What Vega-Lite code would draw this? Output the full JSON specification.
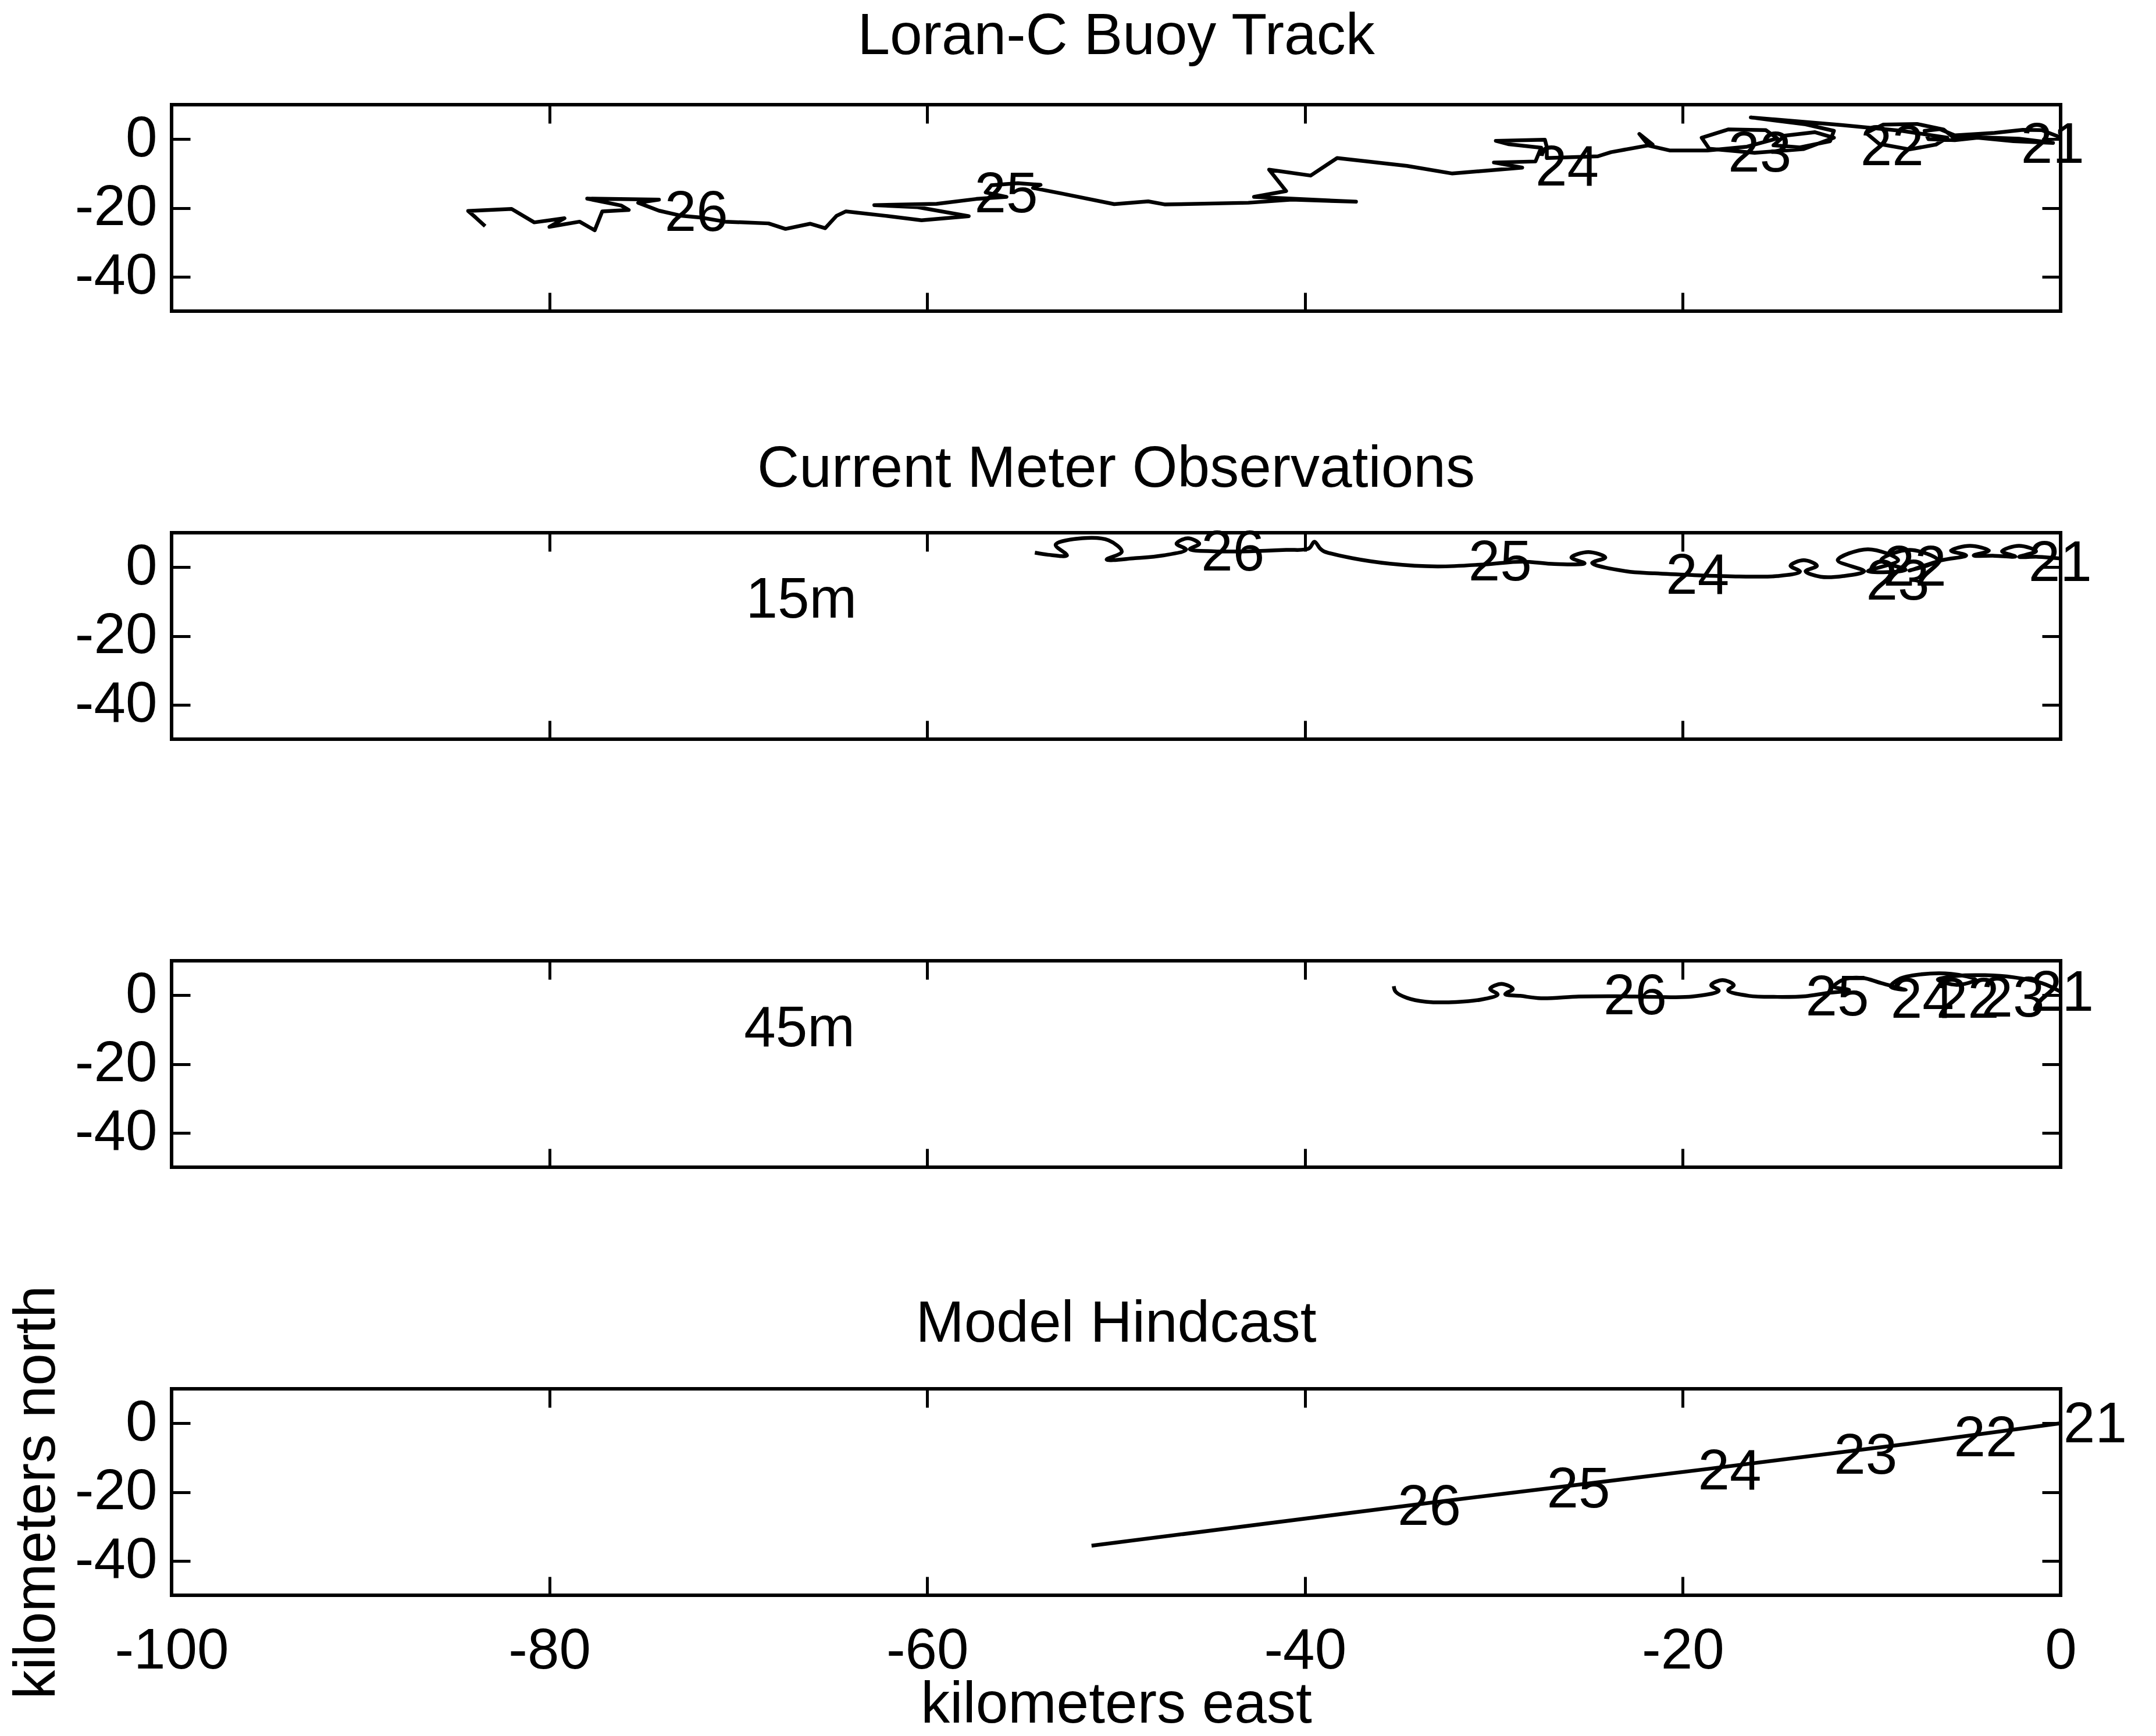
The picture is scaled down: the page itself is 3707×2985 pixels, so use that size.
{
  "$schema": "https://vega.github.io/schema/vega-lite/v6.json",
  "autosize": {"type": "none"},
  "padding": {"left": 295, "top": 180, "right": 3412, "bottom": 2805},
  "background": "white",
  "bounds": "flush",
  "spacing": 381,
  "config": {
    "font": "Liberation Sans",
    "view": {"stroke": "black", "strokeWidth": 6},
    "axis": {
      "domain": false, "grid": false,
      "tickColor": "black", "tickWidth": 5, "tickSize": -32,
      "labelFont": "Liberation Sans", "labelFontSize": 98, "labelColor": "black", "labelLimit": 2000,
      "labelFlush": false, "labelOverlap": false, "labelBound": false,
      "titleFont": "Liberation Sans", "titleFontSize": 100, "titleFontWeight": "normal", "titleColor": "black", "titleLimit": 3000
    },
    "title": {"font": "Liberation Sans", "fontSize": 100, "fontWeight": "normal", "color": "black", "baseline": "alphabetic", "frame": "group", "anchor": "middle"}
  },
  "datasets": {
    "loran": [
      {"i":1,"x":0,"y":0.5},{"i":2,"x":-1.0,"y":2.6},{"i":3,"x":-2.0,"y":2.7},{"i":4,"x":-3.5,"y":1.8},{"i":5,"x":-5.6,"y":1.1},
      {"i":6,"x":-6.4,"y":2.9},{"i":7,"x":-7.2,"y":2.4},{"i":8,"x":-7.0,"y":0.0},{"i":9,"x":-5.6,"y":-0.3},{"i":10,"x":-4.4,"y":0.4},
      {"i":11,"x":-2.5,"y":-0.6},{"i":12,"x":-0.4,"y":-1.1},{"i":13,"x":-2.2,"y":0.1},{"i":14,"x":-4.8,"y":0.6},{"i":15,"x":-5.6,"y":0.1},
      {"i":16,"x":-6.2,"y":2.8},{"i":17,"x":-7.6,"y":4.4},{"i":18,"x":-9.4,"y":4.2},{"i":19,"x":-10.3,"y":1.8},{"i":20,"x":-9.6,"y":-1.4},
      {"i":21,"x":-8.0,"y":-3.0},{"i":22,"x":-6.6,"y":-1.6},{"i":23,"x":-6.0,"y":0.4},{"i":24,"x":-8.4,"y":2.4},{"i":25,"x":-11.6,"y":4.1},
      {"i":26,"x":-16.4,"y":6.3},{"i":27,"x":-13.5,"y":4.3},{"i":28,"x":-12.0,"y":2.4},{"i":29,"x":-12.2,"y":-0.6},{"i":30,"x":-13.8,"y":-2.4},
      {"i":31,"x":-15.2,"y":-1.8},{"i":32,"x":-14.6,"y":1.0},{"i":33,"x":-13.0,"y":2.0},{"i":34,"x":-12.0,"y":0.4},{"i":35,"x":-13.6,"y":-2.9},
      {"i":36,"x":-16.2,"y":-4.0},{"i":37,"x":-18.6,"y":-2.8},{"i":38,"x":-19.0,"y":0.4},{"i":39,"x":-17.6,"y":2.8},{"i":40,"x":-15.6,"y":2.6},
      {"i":41,"x":-15.0,"y":0.2},{"i":42,"x":-16.6,"y":-2.2},{"i":43,"x":-18.7,"y":-3.3},{"i":44,"x":-20.7,"y":-3.3},{"i":45,"x":-21.8,"y":-1.9},
      {"i":46,"x":-22.3,"y":1.5},{"i":47,"x":-21.6,"y":-1.6},{"i":48,"x":-23.8,"y":-3.8},{"i":49,"x":-24.5,"y":-5.0},{"i":50,"x":-27.2,"y":-5.5},
      {"i":51,"x":-27.2,"y":-2.3},{"i":52,"x":-27.3,"y":-0.2},{"i":53,"x":-29.9,"y":-0.5},{"i":54,"x":-29.2,"y":-1.5},{"i":55,"x":-27.5,"y":-2.5},
      {"i":56,"x":-27.8,"y":-6.5},{"i":57,"x":-30.0,"y":-6.8},{"i":58,"x":-28.5,"y":-8.3},{"i":59,"x":-32.2,"y":-10.0},{"i":60,"x":-34.6,"y":-7.8},
      {"i":61,"x":-38.3,"y":-5.5},{"i":62,"x":-39.7,"y":-10.6},{"i":63,"x":-41.9,"y":-8.9},{"i":64,"x":-41.0,"y":-15.1},{"i":65,"x":-42.7,"y":-16.8},
      {"i":66,"x":-37.3,"y":-18.2},{"i":67,"x":-40.7,"y":-17.6},{"i":68,"x":-43.0,"y":-18.5},{"i":69,"x":-47.4,"y":-19.0},{"i":70,"x":-48.3,"y":-18.1},
      {"i":71,"x":-50.1,"y":-18.9},{"i":72,"x":-52.9,"y":-15.8},{"i":73,"x":-54.4,"y":-14.2},{"i":74,"x":-54.0,"y":-13.3},{"i":75,"x":-55.2,"y":-12.8},
      {"i":76,"x":-56.6,"y":-13.4},{"i":77,"x":-56.9,"y":-15.5},{"i":78,"x":-55.8,"y":-16.8},{"i":79,"x":-57.4,"y":-17.4},{"i":80,"x":-59.5,"y":-18.8},
      {"i":81,"x":-62.8,"y":-19.2},{"i":82,"x":-60.5,"y":-19.8},{"i":83,"x":-57.8,"y":-22.4},{"i":84,"x":-60.3,"y":-23.6},{"i":85,"x":-62.2,"y":-22.3},
      {"i":86,"x":-64.3,"y":-21.0},{"i":87,"x":-64.8,"y":-22.3},{"i":88,"x":-65.4,"y":-25.9},{"i":89,"x":-66.2,"y":-24.6},{"i":90,"x":-67.5,"y":-26.1},
      {"i":91,"x":-68.4,"y":-24.5},{"i":92,"x":-70.7,"y":-24.0},{"i":93,"x":-72.0,"y":-22.8},{"i":94,"x":-73.0,"y":-22.3},{"i":95,"x":-74.2,"y":-20.8},
      {"i":96,"x":-75.3,"y":-18.5},{"i":97,"x":-74.2,"y":-17.6},{"i":98,"x":-78.0,"y":-17.3},{"i":99,"x":-76.2,"y":-19.3},{"i":100,"x":-75.8,"y":-20.6},
      {"i":101,"x":-77.2,"y":-21.0},{"i":102,"x":-77.6,"y":-26.5},{"i":103,"x":-78.4,"y":-24.0},{"i":104,"x":-80.0,"y":-25.5},{"i":105,"x":-79.2,"y":-23.0},
      {"i":106,"x":-80.8,"y":-24.2},{"i":107,"x":-82.0,"y":-20.3},{"i":108,"x":-84.3,"y":-20.9},{"i":109,"x":-83.9,"y":-22.8},{"i":110,"x":-83.4,"y":-25.3}
    ],
    "m15": [
      {"i":1,"x":0,"y":2.5},{"i":2,"x":-1.2,"y":3.0},
      {"i":3,"x":-2.2,"y":3.0},{"i":4,"x":-1.3,"y":4.6},{"i":5,"x":-2.2,"y":6.2},{"i":6,"x":-3.1,"y":4.6},{"i":7,"x":-2.4,"y":3.1},
      {"i":8,"x":-3.5,"y":3.3},
      {"i":9,"x":-4.6,"y":3.4},{"i":10,"x":-3.8,"y":4.8},{"i":11,"x":-4.8,"y":6.2},{"i":12,"x":-5.8,"y":4.8},{"i":13,"x":-5.0,"y":3.4},
      {"i":14,"x":-6.3,"y":2.0},
      {"i":15,"x":-8.0,"y":-1.0},{"i":16,"x":-6.5,"y":2.0},{"i":17,"x":-8.0,"y":5.0},{"i":18,"x":-9.5,"y":2.0},{"i":19,"x":-8.2,"y":-0.8},
      {"i":20,"x":-10.2,"y":-1.2},{"i":21,"x":-8.6,"y":2.0},{"i":22,"x":-10.2,"y":5.2},{"i":23,"x":-11.8,"y":2.0},{"i":24,"x":-10.4,"y":-1.2},
      {"i":25,"x":-11.5,"y":-2.6},{"i":26,"x":-12.7,"y":-2.8},
      {"i":27,"x":-13.5,"y":-1.2},{"i":28,"x":-12.9,"y":0.4},{"i":29,"x":-13.6,"y":2.0},{"i":30,"x":-14.3,"y":0.4},{"i":31,"x":-13.8,"y":-1.3},
      {"i":32,"x":-15.0,"y":-2.6},{"i":33,"x":-17.0,"y":-2.7},{"i":34,"x":-19.5,"y":-2.3},{"i":35,"x":-21.5,"y":-1.8},{"i":36,"x":-23.0,"y":-1.2},
      {"i":37,"x":-24.8,"y":1.2},{"i":38,"x":-24.1,"y":2.8},{"i":39,"x":-25.0,"y":4.4},{"i":40,"x":-25.9,"y":2.8},{"i":41,"x":-25.2,"y":1.1},
      {"i":42,"x":-26.8,"y":0.9},{"i":43,"x":-28.5,"y":1.6},{"i":44,"x":-30.5,"y":0.8},{"i":45,"x":-33.0,"y":0.2},{"i":46,"x":-35.5,"y":1.0},
      {"i":47,"x":-37.5,"y":2.6},{"i":48,"x":-39.0,"y":4.6},{"i":49,"x":-39.2,"y":5.4},{"i":50,"x":-39.5,"y":7.4},{"i":51,"x":-39.8,"y":5.4},
      {"i":52,"x":-41.0,"y":5.0},{"i":53,"x":-43.0,"y":4.6},{"i":54,"x":-44.8,"y":4.6},
      {"i":55,"x":-46.1,"y":5.2},{"i":56,"x":-45.6,"y":6.8},{"i":57,"x":-46.2,"y":8.4},{"i":58,"x":-46.8,"y":6.8},{"i":59,"x":-46.3,"y":5.1},
      {"i":60,"x":-47.5,"y":3.4},{"i":61,"x":-49.0,"y":2.6},
      {"i":62,"x":-50.5,"y":2.2},{"i":63,"x":-49.7,"y":4.5},{"i":64,"x":-50.4,"y":7.8},{"i":65,"x":-51.8,"y":8.4},{"i":66,"x":-53.2,"y":6.5},
      {"i":67,"x":-52.6,"y":3.4},{"i":68,"x":-53.6,"y":3.6},{"i":69,"x":-54.3,"y":4.2}
    ],
    "m45": [
      {"i":1,"x":0,"y":1.0},{"i":2,"x":-1.0,"y":3.5},{"i":3,"x":-2.5,"y":5.2},{"i":4,"x":-4.0,"y":5.8},{"i":5,"x":-5.5,"y":5.6},
      {"i":6,"x":-6.5,"y":4.5},{"i":7,"x":-5.5,"y":3.0},{"i":8,"x":-4.5,"y":4.5},{"i":9,"x":-5.8,"y":6.2},{"i":10,"x":-7.5,"y":6.0},
      {"i":11,"x":-8.5,"y":4.8},{"i":12,"x":-9.0,"y":2.5},{"i":13,"x":-8.2,"y":1.5},{"i":14,"x":-9.5,"y":3.5},{"i":15,"x":-10.5,"y":5.0},
      {"i":16,"x":-11.5,"y":4.5},{"i":17,"x":-12.0,"y":2.5},{"i":18,"x":-11.2,"y":1.5},{"i":19,"x":-12.5,"y":0.5},{"i":20,"x":-13.5,"y":-0.3},
      {"i":21,"x":-15.0,"y":-0.5},{"i":22,"x":-16.5,"y":-0.2},
      {"i":23,"x":-17.6,"y":1.4},{"i":24,"x":-17.3,"y":2.9},{"i":25,"x":-17.9,"y":4.4},{"i":26,"x":-18.5,"y":2.9},{"i":27,"x":-18.1,"y":1.3},
      {"i":28,"x":-19.5,"y":-0.4},{"i":29,"x":-21.5,"y":-0.5},{"i":30,"x":-23.5,"y":-0.3},{"i":31,"x":-25.5,"y":-0.4},{"i":32,"x":-27.5,"y":-0.9},
      {"i":33,"x":-28.6,"y":-0.2},
      {"i":34,"x":-29.4,"y":0.3},{"i":35,"x":-29.0,"y":1.8},{"i":36,"x":-29.6,"y":3.3},{"i":37,"x":-30.2,"y":1.8},{"i":38,"x":-29.8,"y":0.2},
      {"i":39,"x":-30.6,"y":-1.2},{"i":40,"x":-32.0,"y":-2.0},{"i":41,"x":-33.6,"y":-1.9},{"i":42,"x":-34.6,"y":-0.8},{"i":43,"x":-35.2,"y":1.0},
      {"i":44,"x":-35.3,"y":2.6}
    ],
    "model": [
      {"i":1,"x":0,"y":0},{"i":2,"x":-8.1,"y":-6.0},{"i":3,"x":-18.7,"y":-13.3},{"i":4,"x":-33.5,"y":-23.2},{"i":5,"x":-51.3,"y":-35.6}
    ],
    "lab1": [
      {"t":"26","x":-73.9,"y":-21.8},{"t":"25","x":-57.5,"y":-16.3},{"t":"24","x":-27.8,"y":-8.6},
      {"t":"23","x":-17.6,"y":-4.5},{"t":"22","x":-10.6,"y":-2.7},{"t":"21","x":-2.1,"y":-2.0}
    ],
    "lab2": [
      {"t":"26","x":-45.5,"y":4.0},{"t":"25","x":-31.35,"y":1.0},{"t":"24","x":-20.9,"y":-2.8},
      {"t":"23","x":-10.3,"y":-4.5},{"t":"22","x":-9.4,"y":-0.5},{"t":"21","x":-1.7,"y":0.9},{"t":"15m","x":-69.6,"y":-9.7}
    ],
    "lab3": [
      {"t":"26","x":-24.2,"y":-0.6},{"t":"25","x":-13.5,"y":-1.0},{"t":"24","x":-9.0,"y":-1.6},
      {"t":"22","x":-6.6,"y":-1.6},{"t":"23","x":-4.2,"y":-1.4},{"t":"21","x":-1.6,"y":0.3},{"t":"45m","x":-69.7,"y":-10.0}
    ],
    "lab4": [
      {"t":"26","x":-35.1,"y":-24.7},{"t":"25","x":-27.2,"y":-19.5},{"t":"24","x":-19.2,"y":-14.4},
      {"t":"23","x":-12.0,"y":-9.7},{"t":"22","x":-5.65,"y":-4.75},{"t":"21","x":0.15,"y":-0.7}
    ]
  },
  "vconcat": [
    {
      "width": 3248, "height": 355,
      "title": {"text": "Loran-C Buoy Track", "offset": 64},
      "resolve": {"axis": {"x": "independent", "y": "independent"}},
      "layer": [
        {
          "data": {"name": "loran"},
          "mark": {"type": "line", "color": "black", "strokeWidth": 6.5, "strokeJoin": "round"},
          "encoding": {
            "x": {"field": "x", "type": "quantitative", "scale": {"domain": [-100, 0], "nice": false, "zero": false}, "axis": {"orient": "bottom", "values": [-100,-80,-60,-40,-20,0], "labels": false, "title": null}},
            "y": {"field": "y", "type": "quantitative", "scale": {"domain": [-50, 10], "nice": false, "zero": false}, "axis": {"orient": "left", "values": [-40,-20,0], "labelExpr": "'' + datum.value", "labelPadding": 57, "title": null}},
            "order": {"field": "i", "type": "quantitative"}
          }
        },
        {
          "data": {"name": "lab1"},
          "mark": {"type": "text", "align": "left", "baseline": "middle", "fontSize": 98, "font": "Liberation Sans", "color": "black"},
          "encoding": {
            "x": {"field": "x", "type": "quantitative", "axis": {"orient": "top", "values": [-100,-80,-60,-40,-20,0], "labels": false, "title": null}},
            "y": {"field": "y", "type": "quantitative", "axis": {"orient": "right", "values": [-40,-20,0], "labels": false, "title": null}},
            "text": {"field": "t"}
          }
        }
      ]
    },
    {
      "width": 3248, "height": 355,
      "title": {"text": "Current Meter Observations", "offset": 45},
      "resolve": {"axis": {"x": "independent", "y": "independent"}},
      "layer": [
        {
          "data": {"name": "m15"},
          "mark": {"type": "line", "color": "black", "strokeWidth": 6.5, "strokeJoin": "round", "interpolate": "catmull-rom"},
          "encoding": {
            "x": {"field": "x", "type": "quantitative", "scale": {"domain": [-100, 0], "nice": false, "zero": false}, "axis": {"orient": "bottom", "values": [-100,-80,-60,-40,-20,0], "labels": false, "title": null}},
            "y": {"field": "y", "type": "quantitative", "scale": {"domain": [-50, 10], "nice": false, "zero": false}, "axis": {"orient": "left", "values": [-40,-20,0], "labelExpr": "'' + datum.value", "labelPadding": 57, "title": null}},
            "order": {"field": "i", "type": "quantitative"}
          }
        },
        {
          "data": {"name": "lab2"},
          "mark": {"type": "text", "align": "left", "baseline": "middle", "fontSize": 98, "font": "Liberation Sans", "color": "black"},
          "encoding": {
            "x": {"field": "x", "type": "quantitative", "axis": {"orient": "top", "values": [-100,-80,-60,-40,-20,0], "labels": false, "title": null}},
            "y": {"field": "y", "type": "quantitative", "axis": {"orient": "right", "values": [-40,-20,0], "labels": false, "title": null}},
            "text": {"field": "t"}
          }
        }
      ]
    },
    {
      "width": 3248, "height": 355,
      "resolve": {"axis": {"x": "independent", "y": "independent"}},
      "layer": [
        {
          "data": {"name": "m45"},
          "mark": {"type": "line", "color": "black", "strokeWidth": 6.5, "strokeJoin": "round", "interpolate": "catmull-rom"},
          "encoding": {
            "x": {"field": "x", "type": "quantitative", "scale": {"domain": [-100, 0], "nice": false, "zero": false}, "axis": {"orient": "bottom", "values": [-100,-80,-60,-40,-20,0], "labels": false, "title": null}},
            "y": {"field": "y", "type": "quantitative", "scale": {"domain": [-50, 10], "nice": false, "zero": false}, "axis": {"orient": "left", "values": [-40,-20,0], "labelExpr": "'' + datum.value", "labelPadding": 57, "title": null}},
            "order": {"field": "i", "type": "quantitative"}
          }
        },
        {
          "data": {"name": "lab3"},
          "mark": {"type": "text", "align": "left", "baseline": "middle", "fontSize": 98, "font": "Liberation Sans", "color": "black"},
          "encoding": {
            "x": {"field": "x", "type": "quantitative", "axis": {"orient": "top", "values": [-100,-80,-60,-40,-20,0], "labels": false, "title": null}},
            "y": {"field": "y", "type": "quantitative", "axis": {"orient": "right", "values": [-40,-20,0], "labels": false, "title": null}},
            "text": {"field": "t"}
          }
        }
      ]
    },
    {
      "width": 3248, "height": 355,
      "title": {"text": "Model Hindcast", "offset": -118},
      "resolve": {"axis": {"x": "independent", "y": "independent"}},
      "layer": [
        {
          "data": {"name": "model"},
          "mark": {"type": "line", "color": "black", "strokeWidth": 6.5, "strokeJoin": "round"},
          "encoding": {
            "x": {"field": "x", "type": "quantitative", "scale": {"domain": [-100, 0], "nice": false, "zero": false}, "axis": {"orient": "bottom", "values": [-100,-80,-60,-40,-20,0], "labelExpr": "'' + datum.value", "labelPadding": 80, "title": "kilometers east", "titlePadding": -6}},
            "y": {"field": "y", "type": "quantitative", "scale": {"domain": [-50, 10], "nice": false, "zero": false}, "axis": {"orient": "left", "values": [-40,-20,0], "labelExpr": "'' + datum.value", "labelPadding": 57, "title": "kilometers north", "titlePadding": 14}},
            "order": {"field": "i", "type": "quantitative"}
          }
        },
        {
          "data": {"name": "lab4"},
          "mark": {"type": "text", "align": "left", "baseline": "middle", "fontSize": 98, "font": "Liberation Sans", "color": "black"},
          "encoding": {
            "x": {"field": "x", "type": "quantitative", "axis": {"orient": "top", "values": [-100,-80,-60,-40,-20,0], "labels": false, "title": null}},
            "y": {"field": "y", "type": "quantitative", "axis": {"orient": "right", "values": [-40,-20,0], "labels": false, "title": null}},
            "text": {"field": "t"}
          }
        }
      ]
    }
  ]
}
